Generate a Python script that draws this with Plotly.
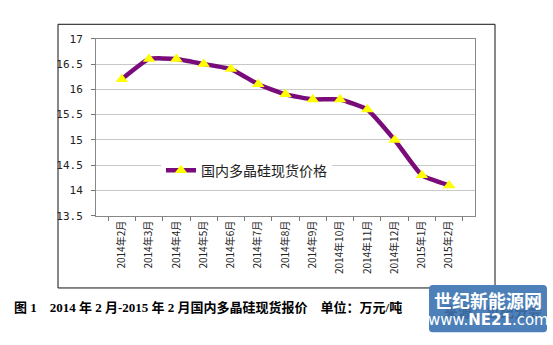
import plotly.graph_objects as go

# Monthly domestic polysilicon spot price (10k CNY / ton)
months = ["2014年2月", "2014年3月", "2014年4月", "2014年5月", "2014年6月",
          "2014年7月", "2014年8月", "2014年9月", "2014年10月", "2014年11月",
          "2014年12月", "2015年1月", "2015年2月"]
prices = [16.2, 16.6, 16.6, 16.5, 16.4, 16.1, 15.9, 15.8, 15.8, 15.6, 15.0, 14.3, 14.1]
y_ticks = [13.5, 14, 14.5, 15, 15.5, 16, 16.5, 17]
series_name = "国内多晶硅现货价格"
caption = "图 1　2014 年 2 月-2015 年 2 月国内多晶硅现货报价　单位：万元/吨"
source_note = "来源：世纪分会"

W, H = 553, 345


def px(x):
    return x / W


def py(y):
    return 1 - y / H


fig = go.Figure()
fig.add_trace(go.Scatter(
    x=months, y=prices, name=series_name, mode="lines+markers",
    line=dict(color="#7a0b7a", width=4.5, shape="spline", smoothing=0.4),
    marker=dict(symbol="triangle-up", size=11, color="#ffff00",
                line=dict(width=0)),
))

fig.update_layout(
    width=W, height=H,
    margin=dict(l=0, r=0, t=0, b=0),
    paper_bgcolor="white", plot_bgcolor="white",
    showlegend=True,
    legend=dict(x=px(161), y=py(171), xanchor="left", yanchor="middle",
                bgcolor="white", borderwidth=0, itemwidth=30,
                font=dict(family="Noto Sans CJK SC", size=14, color="#222")),
    font=dict(family="Noto Sans CJK SC, DejaVu Sans", color="#222"),
)

fig.update_xaxes(
    domain=[px(96), px(475)], type="category",
    tickangle=-90, tickson="boundaries", ticks="outside", ticklen=4,
    tickcolor="#777", showgrid=False, showline=True, linecolor="#888",
    linewidth=1, mirror=True,
    tickfont=dict(family="Noto Sans CJK SC, DejaVu Sans", size=10, color="#222"),
)
fig.update_yaxes(
    domain=[py(218), py(34)], range=[13.5, 17], tickvals=y_ticks,
    ticktext=[f"{v:g}" for v in y_ticks],
    ticks="outside", ticklen=4, tickcolor="#777", ticklabelstandoff=6,
    showgrid=True, gridcolor="#c8c8c8", gridwidth=1,
    showline=True, linecolor="#888", linewidth=1, mirror=True,
    zeroline=False,
    tickfont=dict(family="DejaVu Sans Mono", size=11, color="#222"),
)

# Outer chart frame
fig.add_shape(type="rect", xref="paper", yref="paper",
              x0=px(58), x1=px(495), y0=py(293), y1=py(19),
              line=dict(color="#111", width=1), fillcolor="rgba(0,0,0,0)",
              layer="below")

# Figure caption
fig.add_annotation(xref="paper", yref="paper", x=px(12), y=py(313),
                   xanchor="left", yanchor="middle", showarrow=False,
                   text=f"<b>{caption}</b>",
                   font=dict(family="Liberation Serif, Noto Sans CJK SC",
                             size=13, color="#000"))

# Site badge in the lower-right corner
fig.add_shape(type="path", xref="paper", yref="paper",
              path=(f"M {px(433)},{py(290)} L {px(543)},{py(290)} "
                    f"Q {px(547)},{py(290)} {px(547)},{py(294)} "
                    f"L {px(547)},{py(335)} Q {px(547)},{py(339)} {px(543)},{py(339)} "
                    f"L {px(433)},{py(339)} Q {px(429)},{py(339)} {px(429)},{py(335)} "
                    f"L {px(429)},{py(294)} Q {px(429)},{py(290)} {px(433)},{py(290)} Z"),
              fillcolor="#4d80b9", line=dict(width=0))
# source note showing faintly through the badge
fig.add_annotation(xref="paper", yref="paper", x=px(442), y=py(317),
                   xanchor="left", yanchor="middle", showarrow=False,
                   text=f"<b>{source_note}</b>",
                   font=dict(family="Noto Sans CJK SC", size=14, color="#3a679c"))
fig.add_annotation(xref="paper", yref="paper", x=px(488), y=py(306),
                   xanchor="center", yanchor="middle", showarrow=False,
                   text="<b>世纪新能源网</b>",
                   font=dict(family="Noto Sans CJK SC", size=18, color="white"))
fig.add_annotation(xref="paper", yref="paper", x=px(488), y=py(326),
                   xanchor="center", yanchor="middle", showarrow=False,
                   text="www.<b>NE21</b>.com",
                   font=dict(family="DejaVu Sans", size=15, color="white"))

fig.write_html("out.html")
